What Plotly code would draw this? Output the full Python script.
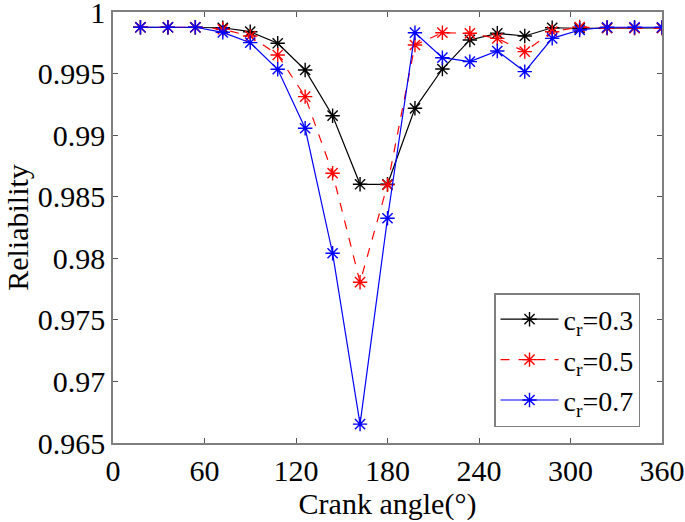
import plotly.graph_objects as go

angles = [18, 36, 54, 72, 90, 108, 126, 144, 162, 180, 198, 216, 234, 252, 270, 288, 306, 324, 342, 360]
cr03 = [0.99876, 0.99876, 0.99876, 0.99872, 0.9984, 0.99746, 0.99529, 0.99158, 0.98601, 0.98601,
        0.99218, 0.99537, 0.99773, 0.99827, 0.99805, 0.99872, 0.99868, 0.9987, 0.9987, 0.9987]
cr05 = [0.99876, 0.99876, 0.99876, 0.9986, 0.99805, 0.99651, 0.99313, 0.98691, 0.97806, 0.98596,
        0.99732, 0.99832, 0.99827, 0.99786, 0.99678, 0.9984, 0.99878, 0.9987, 0.9987, 0.9987]
cr07 = [0.99876, 0.99876, 0.99876, 0.99835, 0.99751, 0.99535, 0.99056, 0.98041, 0.96653, 0.98325,
        0.99832, 0.99629, 0.99597, 0.99683, 0.99516, 0.99786, 0.99854, 0.99876, 0.99876, 0.99876]
names = ["c<sub>r</sub>=0.3", "c<sub>r</sub>=0.5", "c<sub>r</sub>=0.7"]
x_ticks = [0, 60, 120, 180, 240, 300, 360]
y_ticks = [0.965, 0.97, 0.975, 0.98, 0.985, 0.99, 0.995, 1.0]
y_tick_labels = ["0.965", "0.97", "0.975", "0.98", "0.985", "0.99", "0.995", "1"]

series = [(cr03, "#000000", "solid"), (cr05, "#ff0000", "dash"), (cr07, "#0000ff", "solid")]

fig = go.Figure()
for i, ((vals, color, dash), name) in enumerate(zip(series, names)):
    fig.add_trace(go.Scatter(
        x=angles, y=vals, name=name, mode="lines+markers", legendgroup=f"g{i}",
        line=dict(color=color, width=1.2, dash=dash),
        marker=dict(symbol="asterisk-open", size=12, color=color, line=dict(color=color, width=1.4)),
    ))

font_family = "Liberation Serif, Times New Roman, serif"
axis_common = dict(
    showgrid=False, zeroline=False, showline=True, linecolor="#7f7f7f", linewidth=1.5,
    mirror="ticks", ticks="inside", ticklen=5, tickcolor="#555555", tickwidth=1,
    tickfont=dict(family=font_family, size=30, color="black"), automargin=False,
    ticklabeloverflow="allow",
)
fig.update_layout(
    width=685, height=522,
    margin=dict(l=113, r=23, t=12, b=79),
    paper_bgcolor="white", plot_bgcolor="white",
    font=dict(family=font_family, color="black"),
    xaxis=dict(range=[0, 360], tickvals=x_ticks,
               title=dict(text="Crank angle(°)", font=dict(size=30), standoff=0), **axis_common),
    yaxis=dict(range=[0.965, 1.0], tickvals=y_ticks, ticktext=y_tick_labels,
               title=dict(text="Reliability", font=dict(size=30), standoff=0), **axis_common),
    legend=dict(x=0.694, y=0.348, xanchor="left", yanchor="top",
                bordercolor="#7f7f7f", borderwidth=1.5, bgcolor="white",
                font=dict(family=font_family, size=28), itemwidth=58, tracegroupgap=1),
    showlegend=True,
)
fig.write_html("out.html", config={"displayModeBar": False},
               post_script="document.body.style.margin='0';document.body.style.overflow='hidden';")
